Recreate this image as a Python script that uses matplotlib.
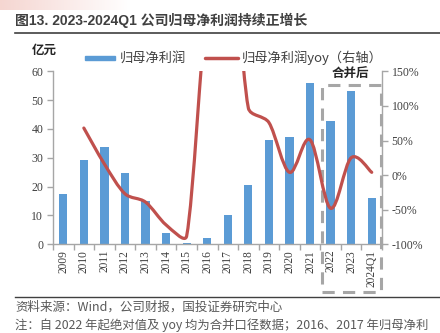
import numpy as np
import matplotlib
matplotlib.use("Agg")
import matplotlib.pyplot as plt
from matplotlib.path import Path
from matplotlib.patches import PathPatch, Rectangle
from matplotlib.lines import Line2D
import matplotlib.transforms as mtransforms

plt.rcParams['font.family'] = ['Noto Sans CJK SC', 'DejaVu Sans']

# ---- data ----
years = ["2009", "2010", "2011", "2012", "2013", "2014", "2015", "2016",
         "2017", "2018", "2019", "2020", "2021", "2022", "2023", "2024Q1"]
profit = [17.5, 29.2, 33.7, 24.6, 15.0, 4.0, 0.5, 2.1,
          10.1, 20.5, 36.1, 37.2, 56.1, 42.9, 53.2, 16.0]
yoy = [None, 68, 16, -27, -39, -72, -88, 250,
       380, 97, 76, 4, 51, -48, 25, 4]

bar_color = "#5b9bd5"
line_color = "#c0504d"
axis_color = "#a6a6a6"
text_color = "#404040"
serif = "Liberation Serif"

W, H = 440, 333
fig = plt.figure(figsize=(W / 100, H / 100), dpi=100)


def fx(px):
    return px / W


def fy(py):
    return 1 - py / H


# header tint in the top-left corner
tint = np.ones((1, 256, 4))
tint[..., 0] = 0.96
tint[..., 1] = 0.82
tint[..., 2] = 0.80
tint[..., 3] = np.linspace(1, 0, 256)[None, :] * 0.9
hdr = fig.add_axes([0, fy(10), fx(130), 10 / H])
hdr.imshow(tint, aspect="auto", extent=(0, 1, 0, 1))
hdr.axis("off")

# title and rules
fig.text(fx(15), fy(25), "图13. 2023-2024Q1 公司归母净利润持续正增长",
         family=["Liberation Sans", "Noto Sans CJK SC"], weight="bold",
         fontsize=10, color=text_color, va="baseline", ha="left")
fig.add_artist(Line2D([fx(15), 1], [fy(33), fy(33)], color="#404040", lw=1.2))
fig.add_artist(Line2D([fx(15), 1], [fy(297), fy(297)], color="#404040", lw=1.0))

fig.text(fx(15), fy(307), "资料来源：Wind，公司财报，国投证券研究中心",
         fontsize=9.0, color="#595959", va="center", ha="left", style="italic")
fig.text(fx(15), fy(325),
         "注：自 2022 年起绝对值及 yoy 均为合并口径数据；2016、2017 年归母净利",
         fontsize=8.9, color="#595959", va="center", ha="left", style="italic")

# main axes
ax_h = 244.3 - 71.3
ax_w = 382 - 53
ax = fig.add_axes([fx(53), fy(244.3), fx(ax_w), ax_h / H])
x = np.arange(len(years))
ax.bar(x, profit, width=0.4, color=bar_color, zorder=2)
ax.set_xlim(-0.5, len(years) - 0.5)
ax.set_ylim(0, 60)
ax.set_yticks(np.arange(0, 61, 10))
ax.set_xticks(x)
ax.set_xticklabels(years, rotation=90, family=serif, fontsize=8.3, color=text_color)
ax.set_xticks(np.arange(-0.5, len(years), 1), minor=True)
ax.tick_params(axis="x", which="major", length=0, pad=4)
ax.tick_params(axis="x", which="minor", length=4, color=axis_color, width=1)
ax.tick_params(axis="y", length=4, color=axis_color, width=1, pad=3,
               labelsize=8.5, labelcolor=text_color)
for lbl in ax.get_yticklabels():
    lbl.set_family(serif)
for s in ["top", "right"]:
    ax.spines[s].set_visible(False)
for s in ["left", "bottom"]:
    ax.spines[s].set_color(axis_color)
    ax.spines[s].set_linewidth(1)

ax2 = ax.twinx()
ax2.set_ylim(-100, 150)
ax2.set_yticks(np.arange(-100, 151, 50))
ax2.set_yticklabels([f"{v}%" for v in range(-100, 151, 50)],
                    family=serif, fontsize=8.5, color=text_color)
ax2.tick_params(axis="y", length=4, color=axis_color, width=1, pad=3)
for s in ["top", "left", "bottom"]:
    ax2.spines[s].set_visible(False)
ax2.spines["right"].set_color(axis_color)
ax2.spines["right"].set_linewidth(1)

# smoothed yoy line: cubic Bezier segments through the points, with the
# handle lengths limited relative to each segment (measured in pixels)
sx = ax_w / len(years)          # px per category
sy = ax_h / 250.0               # px per percentage point
pts = np.array([(i, v) for i, v in enumerate(yoy) if v is not None], float)
scale = np.array([sx, sy])
Q = pts * scale
n = len(Q)
tang = []
for i in range(n):
    a = Q[i - 1] if i > 0 else Q[i]
    b = Q[i + 1] if i + 1 < n else Q[i]
    tang.append((b - a) / 6.0)
verts = [tuple(pts[0])]
codes = [Path.MOVETO]
limit = 0.35
for i in range(n - 1):
    chord = np.linalg.norm(Q[i + 1] - Q[i])
    t1, t2 = tang[i], tang[i + 1]
    l1, l2 = np.linalg.norm(t1), np.linalg.norm(t2)
    if l1 > limit * chord:
        t1 = t1 * (limit * chord / l1)
    if l2 > limit * chord:
        t2 = t2 * (limit * chord / l2)
    c1 = (Q[i] + t1) / scale
    c2 = (Q[i + 1] - t2) / scale
    verts += [tuple(c1), tuple(c2), tuple(pts[i + 1])]
    codes += [Path.CURVE4] * 3
ax2.add_patch(PathPatch(Path(verts, codes), fill=False, edgecolor=line_color,
                        lw=2.3, capstyle="round", joinstyle="round", zorder=3))

# merged-scope dashed box
trans = mtransforms.blended_transform_factory(ax.transData, ax.transAxes)
y_top = (244.3 - 85) / ax_h
y_bot = (244.3 - 292) / ax_h
ax.add_patch(Rectangle((12.57, y_bot), 15.47 - 12.57, y_top - y_bot,
                       transform=trans, fill=False, edgecolor=axis_color,
                       lw=2.2, linestyle=(0, (4, 2.7)), clip_on=False, zorder=4))
fig.text(fx(350), fy(74), "合并后", fontsize=9, weight="bold", color="#262626",
         ha="center", va="center")

# unit label and legend
fig.text(fx(44), fy(50), "亿元", fontsize=9, weight="bold", color="#262626",
         ha="center", va="center")
fig.add_artist(Rectangle((fx(85), fy(60)), fx(30), 4 / H, color=bar_color,
                         transform=fig.transFigure))
fig.text(fx(120), fy(58), "归母净利润", fontsize=9.5, color=text_color,
         ha="left", va="center")
fig.add_artist(Line2D([fx(205), fx(238)], [fy(58), fy(58)], color=line_color,
                      lw=2.5, solid_capstyle="round"))
fig.text(fx(242), fy(58), "归母净利润yoy（右轴）", fontsize=9.5, color=text_color,
         ha="left", va="center")

fig.savefig("out.png", dpi=100)
